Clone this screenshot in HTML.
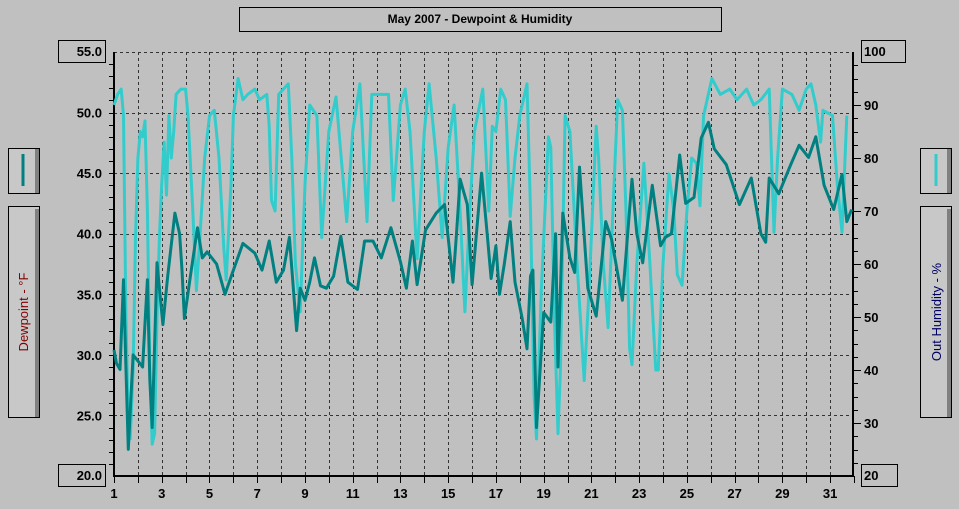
<!DOCTYPE html>
<html><head><meta charset="utf-8">
<style>
html,body{margin:0;padding:0;background:#c0c0c0;}
svg{display:block;}
text{font-family:"Liberation Sans",sans-serif;}
</style></head>
<body>
<svg id="chart" width="959" height="509" viewBox="0 0 959 509" xmlns="http://www.w3.org/2000/svg">
<rect x="0" y="0" width="959" height="509" fill="#c0c0c0"/>
<g>
<rect x="239.5" y="7.5" width="482" height="24" fill="#c0c0c0" stroke="#000" stroke-width="1"/>
<text x="480" y="23" font-size="12" font-weight="bold" text-anchor="middle">May 2007 - Dewpoint &amp; Humidity</text>
</g>
<g>
<rect x="8.5" y="148.5" width="31" height="45" fill="#c8c8c8" stroke="#000"/>
<rect x="35" y="149" width="4" height="44" fill="#808080"/>
<line x1="23" y1="154" x2="23" y2="186" stroke="#008080" stroke-width="3"/>
</g>
<g>
<rect x="8.5" y="206.5" width="31" height="211" fill="#c8c8c8" stroke="#000"/>
<rect x="35" y="209" width="4" height="208" fill="#808080"/>
<text transform="translate(28,312) rotate(-90)" font-size="13" fill="#800000" text-anchor="middle">Dewpoint - °F</text>
</g>
<g>
<rect x="920.5" y="148.5" width="31" height="45" fill="#c8c8c8" stroke="#000"/>
<rect x="947" y="149" width="4" height="44" fill="#808080"/>
<line x1="936" y1="154" x2="936" y2="186" stroke="#33cccc" stroke-width="3"/>
</g>
<g>
<rect x="920.5" y="206.5" width="31" height="211" fill="#c8c8c8" stroke="#000"/>
<rect x="947" y="209" width="4" height="208" fill="#808080"/>
<text transform="translate(941,312) rotate(-90)" font-size="13" fill="#000060" text-anchor="middle">Out Humidity - %</text>
</g>
<g>
<rect x="58.5" y="40.5" width="47" height="22" fill="none" stroke="#000"/>
<text x="102" y="56" font-size="13" font-weight="bold" text-anchor="end">55.0</text>
<rect x="58.5" y="464.5" width="47" height="22" fill="none" stroke="#000"/>
<text x="102" y="480" font-size="13" font-weight="bold" text-anchor="end">20.0</text>
<rect x="861.5" y="40.5" width="44" height="22" fill="none" stroke="#000"/>
<text x="864" y="56" font-size="13" font-weight="bold">100</text>
<rect x="861.5" y="464.5" width="36" height="22" fill="none" stroke="#000"/>
<text x="864" y="480" font-size="13" font-weight="bold">20</text>
</g>
<g id="grid"></g>
<g id="axes"></g>
<g id="series"></g>
</svg>
<script>
// ---- data ----
const humDays = [1.0,1.15,1.3,1.4,1.5,1.6,1.68,1.8,1.9,2.0,2.1,2.2,2.3,2.4,2.5,2.6,2.7,2.8,2.9,3.0,3.1,3.2,3.3,3.4,3.5,3.6,3.8,4.0,4.1,4.3,4.45,4.6,4.8,5.0,5.2,5.4,5.6,5.7,5.9,6.0,6.2,6.4,6.6,6.9,7.1,7.4,7.5,7.6,7.75,7.9,8.3,8.45,8.6,8.8,9.0,9.2,9.5,9.7,10.0,10.3,10.75,11.0,11.3,11.6,11.8,12.2,12.5,12.7,13.0,13.2,13.4,13.7,14.0,14.2,14.5,14.75,15.0,15.25,15.5,15.7,15.9,16.1,16.45,16.7,16.85,17.0,17.2,17.4,17.6,17.8,18.0,18.3,18.45,18.6,18.7,18.9,19.2,19.3,19.45,19.6,19.7,19.9,20.1,20.4,20.7,20.9,21.2,21.3,21.5,21.7,21.9,22.1,22.3,22.45,22.6,22.7,22.9,23.2,23.45,23.7,23.8,24.0,24.25,24.45,24.6,24.8,25.0,25.2,25.4,25.55,25.7,26.05,26.4,26.8,27.1,27.5,27.8,28.1,28.45,28.65,28.8,29.0,29.4,29.7,30.0,30.2,30.4,30.6,30.7,31.1,31.3,31.5,31.7,31.9];
const humValues = [90,92,93,88,50,30,27,40,65,80,85,84,87,70,40,26,28,50,65,75,83,73,88,80,85,92,93,93,88,70,55,65,80,88,89,80,63,57,75,88,95,91,92,93,91,92,86,72,70,92,94,80,60,51,75,90,88,65,85,91.5,68,85,94,68,92,92,92,72,90,93,85,61,85,94,80,65,82,90,70,51,70,85,93,70,86,85,93,91,69,80,88,94,70,35,27,55,84,82,50,28,40,88,85,60,38,55,86,80,60,48,70,91,89,70,44,41,60,79,60,40,40,60,77,70,58,56,70,80,79,71,88,95,92,93,91,93,90,91,93,66,80,93,92,89,93,94,90,83,89,88,75,66,88];
const dewDays = [1.0,1.1,1.25,1.4,1.5,1.6,1.8,2.0,2.2,2.4,2.5,2.6,2.8,3.05,3.25,3.55,3.75,3.85,3.95,4.2,4.5,4.7,4.9,5.3,5.65,6.0,6.4,6.9,7.2,7.5,7.8,8.1,8.35,8.65,8.8,9.0,9.2,9.4,9.65,9.9,10.2,10.5,10.8,11.2,11.5,11.85,12.2,12.6,13.0,13.25,13.5,13.7,14.05,14.5,14.85,15.2,15.35,15.5,15.8,16.0,16.4,16.65,16.8,17.0,17.15,17.35,17.6,17.8,18.1,18.3,18.45,18.55,18.7,19.0,19.3,19.5,19.6,19.8,20.1,20.3,20.5,20.85,21.2,21.6,21.85,22.3,22.7,22.9,23.15,23.55,23.9,24.1,24.35,24.7,24.95,25.3,25.6,25.9,26.15,26.65,27.2,27.7,28.1,28.3,28.45,28.85,29.35,29.7,30.1,30.4,30.75,31.15,31.5,31.7,31.9];
const dewValues = [30.4,29.3,28.8,36.2,29,22.2,30,29.5,29,36.2,28,24,37.6,32.5,36.5,41.7,40,37,33,36.5,40.5,38,38.5,37.5,35,37,39.2,38.4,37,39.4,36,37,39.7,32,35.5,34.5,36,38,35.7,35.5,36.5,39.8,36,35.4,39.4,39.4,38,40.5,37.7,35.5,39.4,35.8,40.3,41.7,42.4,36,40,44.5,42.4,35.8,45,39.6,36.3,39,35,37.5,41,36,33,30.5,36.5,37,24,33.5,32.7,40,29,41.7,38,36.8,45.5,35.5,33.2,41,39.5,34.5,44.5,40,37.6,44,39,39.7,40,46.5,42.5,43,47.9,49.2,47,45.7,42.4,44.6,40,39.3,44.6,43.3,45.7,47.3,46.3,48,44,42,44.9,41,42];
const dewTicks = ["50.0","45.0","40.0","35.0","30.0","25.0"];
const humTicks = ["90","80","70","60","50","40","30"];
const dayTicks = [1,3,5,7,9,11,13,15,17,19,21,23,25,27,29,31];

// ---- scales ----
const L=114,R=853,T=52,B=476;
const xDay = d => L + (d-1)*23.87;
const yDew = v => T + (55-v)*(B-T)/35;
const yHum = h => T + (100-h)*(B-T)/80;
const NS="http://www.w3.org/2000/svg";
function mk(tag,parent){const e=document.createElementNS(NS,tag);parent.appendChild(e);return e;}
const grid=document.getElementById('grid'), axes=document.getElementById('axes'), series=document.getElementById('series');

// vertical grid each day
for(let d=2; d<=31; d++){
  const l=mk('line',grid);
  
  
  const x=Math.round(xDay(d))+0.5;
  l.setAttribute('x1',x);l.setAttribute('x2',x);l.setAttribute('y1',T);l.setAttribute('y2',B);
  l.setAttribute('stroke','#333');l.setAttribute('stroke-dasharray','3,3');
}
// horizontal grid
[55,50,45,40,35,30,25].forEach(v=>{
  const l=mk('line',grid);
  
  
  const y=Math.round(yDew(v))+0.5;
  l.setAttribute('x1',L);l.setAttribute('x2',R);l.setAttribute('y1',y);l.setAttribute('y2',y);
  l.setAttribute('stroke','#333');l.setAttribute('stroke-dasharray','3,3');
});
// axis lines
function line(x1,y1,x2,y2,w){const l=mk('line',axes);l.setAttribute('x1',x1);l.setAttribute('y1',y1);l.setAttribute('x2',x2);l.setAttribute('y2',y2);l.setAttribute('stroke','#000');l.setAttribute('stroke-width',w||1);return l;}
const la=line(L,T,L,B+1,2);


const ra=line(R,T,R,B+1,2);


const ba=line(L,B,R+1,B,2);


// left minor ticks
for(let v=21; v<55; v++){const y=Math.round(yDew(v))+0.5;line(L-5,y,L,y,1);}
// right ticks
for(let h=22.5; h<100; h+=2.5){const y=Math.round(yHum(h))+0.5;line(R,y,R+(h%10===0?8:5),y,1);}
// bottom ticks
for(let d=1; d<=32; d++){const x=Math.round(xDay(d))+0.5;line(x,B,x,B+7,1);}
// tick labels
dewTicks.forEach(t=>{
  const e=mk('text',axes);
  
  
  e.setAttribute('x',102);e.setAttribute('y',yDew(parseFloat(t))+5);
  e.setAttribute('text-anchor','end');e.setAttribute('font-size','13');e.setAttribute('font-weight','bold');
  e.textContent=t;
});
humTicks.forEach(t=>{
  const e=mk('text',axes);
  
  
  e.setAttribute('x',864);e.setAttribute('y',yHum(parseFloat(t))+5);
  e.setAttribute('font-size','13');e.setAttribute('font-weight','bold');
  e.textContent=t;
});
dayTicks.forEach(t=>{
  const e=mk('text',axes);
  
  
  e.setAttribute('x',xDay(t));e.setAttribute('y',498);
  e.setAttribute('text-anchor','middle');e.setAttribute('font-size','13');e.setAttribute('font-weight','bold');
  e.textContent=String(t);
});
// series
function path(days,vals,ys){return days.map((d,i)=>(i?'L':'M')+xDay(d).toFixed(1)+','+ys(vals[i]).toFixed(1)).join(' ');}
const hp=mk('path',series);


hp.setAttribute('d',path(humDays,humValues,yHum));
hp.setAttribute('fill','none');hp.setAttribute('stroke','#33cccc');hp.setAttribute('stroke-width','3');hp.setAttribute('stroke-linejoin','round');
const dp=mk('path',series);


dp.setAttribute('d',path(dewDays,dewValues,yDew));
dp.setAttribute('fill','none');dp.setAttribute('stroke','#008080');dp.setAttribute('stroke-width','3');dp.setAttribute('stroke-linejoin','round');
</script>
</body></html>
